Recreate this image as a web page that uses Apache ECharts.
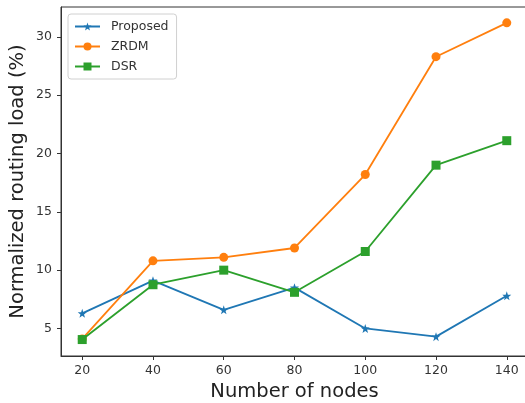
<!DOCTYPE html>
<html>
<head>
<meta charset="utf-8">
<script src="https://cdn.jsdelivr.net/npm/echarts@6/dist/echarts.min.js"></script>
<style>
html,body{margin:0;padding:0;background:#fff;}
#chart{width:525px;height:403px;}
</style>
</head>
<body>
<div id="chart"></div>
<script>
const nodes = [20, 40, 60, 80, 100, 120, 140];
const proposed = [6.3, 9.1, 6.6, 8.5, 5.0, 4.3, 7.8];
const zrdm = [4.1, 10.8, 11.1, 11.9, 18.2, 28.3, 31.2];
const dsr = [4.05, 8.75, 10.0, 8.1, 11.6, 19.0, 21.1];
const xTicks = [20, 40, 60, 80, 100, 120, 140];
const yTicks = [5, 10, 15, 20, 25, 30];

const starPath = 'path://M0,-10 L2.35,-3.24 L9.51,-3.09 L3.8,1.24 L5.88,8.09 L0,4 L-5.88,8.09 L-3.8,1.24 L-9.51,-3.09 L-2.35,-3.24 Z';
const font = 'DejaVu Sans';
const pair = (xs, ys) => xs.map((x, i) => [x, ys[i]]);

const chart = echarts.init(document.getElementById('chart'), null, {renderer: 'canvas'});
chart.setOption({
  animation: false,
  backgroundColor: '#fff',
  grid: {left: 61, top: 7, right: -3, bottom: 47, show: true, borderColor: '#333', borderWidth: 1,
         containLabel: false, outerBoundsMode: 'none'},
  legend: {
    orient: 'vertical', left: 68, top: 14,
    itemWidth: 25, itemHeight: 10, itemGap: 7,
    padding: [6, 8, 6, 6],
    borderColor: '#d0d0d0', borderWidth: 1, borderRadius: 3,
    backgroundColor: 'rgba(255,255,255,0.85)',
    textStyle: {fontFamily: font, fontSize: 12.5, color: '#333', padding: [0, 0, 0, 6]},
    data: ['Proposed', 'ZRDM', 'DSR']
  },
  xAxis: {
    type: 'value', min: 14, max: 146,
    name: 'Number of nodes', nameLocation: 'middle', nameGap: 26, nameMoveOverlap: false,
    nameTextStyle: {fontFamily: font, fontSize: 19.5, color: '#222'},
    axisLine: {show: true, lineStyle: {color: '#333'}},
    axisTick: {show: true, inside: false, length: 4, customValues: xTicks, lineStyle: {color: '#333'}},
    axisLabel: {customValues: xTicks, fontFamily: font, fontSize: 12.5, color: '#333', margin: 8},
    splitLine: {show: false}
  },
  yAxis: {
    type: 'value', min: 2.64, max: 32.56,
    name: 'Normalized routing load (%)', nameLocation: 'middle', nameGap: 33, nameMoveOverlap: false,
    nameTextStyle: {fontFamily: font, fontSize: 19.5, color: '#222'},
    axisLine: {show: true, lineStyle: {color: '#333'}},
    axisTick: {show: true, inside: false, length: 4, customValues: yTicks, lineStyle: {color: '#333'}},
    axisLabel: {customValues: yTicks, fontFamily: font, fontSize: 12.5, color: '#333', margin: 9},
    splitLine: {show: false}
  },
  series: [
    {name: 'Proposed', type: 'line', data: pair(nodes, proposed), symbol: starPath, symbolSize: 9,
     itemStyle: {color: '#1f77b4'}, lineStyle: {width: 1.8, color: '#1f77b4'}},
    {name: 'ZRDM', type: 'line', data: pair(nodes, zrdm), symbol: 'circle', symbolSize: 9,
     itemStyle: {color: '#ff7f0e'}, lineStyle: {width: 1.8, color: '#ff7f0e'}},
    {name: 'DSR', type: 'line', data: pair(nodes, dsr), symbol: 'rect', symbolSize: 9,
     itemStyle: {color: '#2ca02c'}, lineStyle: {width: 1.8, color: '#2ca02c'}}
  ]
});
</script>
</body>
</html>
